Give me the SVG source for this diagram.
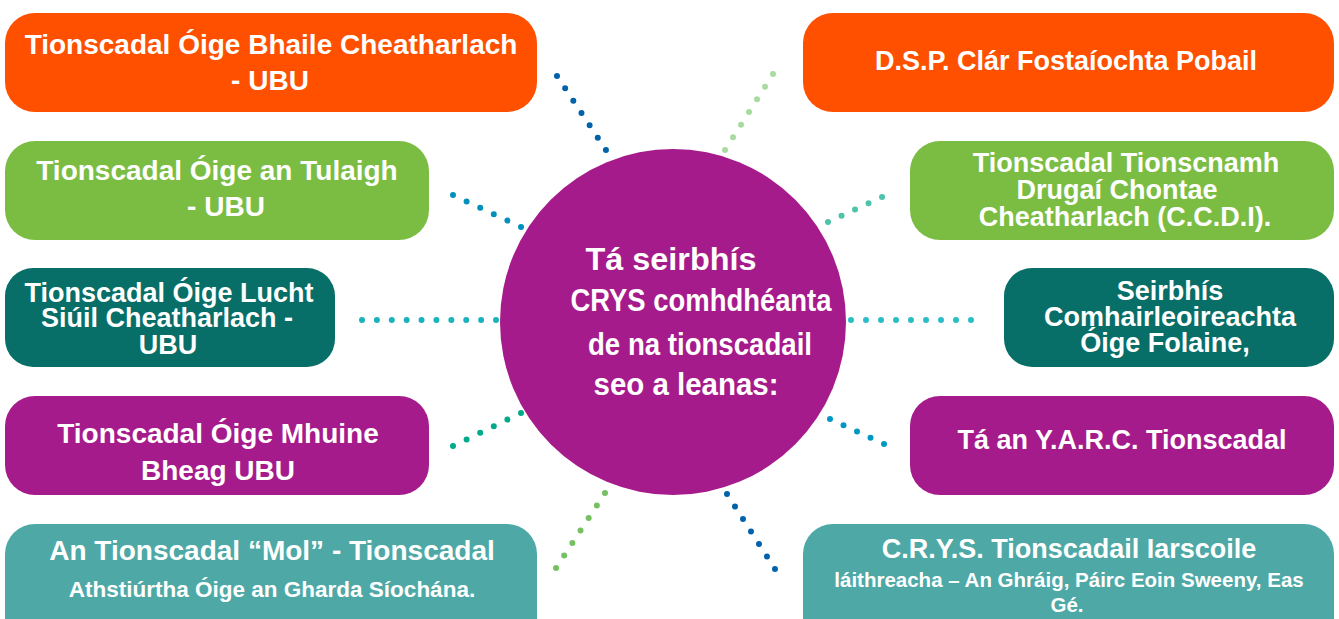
<svg xmlns="http://www.w3.org/2000/svg" width="1339" height="619" viewBox="0 0 1339 619">
<style>
text{font-family:"Liberation Sans",Arial,sans-serif;font-weight:bold;fill:#fff;text-anchor:middle}
.t28{font-size:28px}
.t27{font-size:27px}
.t22{font-size:22.5px}
.t20{font-size:20.5px}
.ctr{font-size:31px}
.orange{fill:#FF5000}
.green{fill:#7BBD43}
.dteal{fill:#076E68}
.purple{fill:#A61B8B}
.lteal{fill:#4EA9A6}
.dots line{fill:none;stroke-width:6;stroke-linecap:round}
</style>
<rect width="1339" height="619" fill="#fff"/>
<g id="connectors" class="dots">
<line x1="557" y1="76" x2="606.8" y2="151.3" stroke="#0062A9" stroke-dasharray="0 14.79"/>
<line x1="773" y1="74" x2="724.2" y2="151.3" stroke="#A9DBA0" stroke-dasharray="0 14.98"/>
<line x1="453" y1="195" x2="522.4" y2="227.6" stroke="#0090BA" stroke-dasharray="0 15.03"/>
<line x1="828" y1="222" x2="883.4" y2="196.4" stroke="#4DC4A9" stroke-dasharray="0 14.88"/>
<line x1="362" y1="320" x2="497.5" y2="320" stroke="#1AB2BC" stroke-dasharray="0 14.89"/>
<line x1="851" y1="320" x2="972.5" y2="320" stroke="#29BEC4" stroke-dasharray="0 15"/>
<line x1="453" y1="446" x2="522.4" y2="412.3" stroke="#00A98A" stroke-dasharray="0 15.12"/>
<line x1="830" y1="419" x2="885.4" y2="444.6" stroke="#0098C2" stroke-dasharray="0 14.88"/>
<line x1="605" y1="493" x2="555.2" y2="569.3" stroke="#77C062" stroke-dasharray="0 14.93"/>
<line x1="727" y1="494" x2="775.8" y2="570.3" stroke="#0063AA" stroke-dasharray="0 14.84"/>
</g>
<g id="center">
<circle cx="673" cy="322" r="173" class="purple"/>
<text class="ctr" x="671" y="270" textLength="171" lengthAdjust="spacingAndGlyphs">Tá seirbhís</text>
<text class="ctr" x="701" y="311" textLength="261" lengthAdjust="spacingAndGlyphs">CRYS comhdhéanta</text>
<text class="ctr" x="700" y="355" textLength="224" lengthAdjust="spacingAndGlyphs">de na tionscadail</text>
<text class="ctr" x="686" y="395" textLength="185" lengthAdjust="spacingAndGlyphs">seo a leanas:</text>
</g>
<g id="l1">
<rect x="5" y="13" width="532" height="99" rx="30" class="orange"/>
<text class="t28" x="271" y="54">Tionscadal Óige Bhaile Cheatharlach</text>
<text class="t28" x="270" y="90">- UBU</text>
</g>
<g id="l2">
<rect x="5" y="141" width="424" height="99" rx="30" class="green"/>
<text class="t28" x="217" y="180">Tionscadal Óige an Tulaigh</text>
<text class="t28" x="226" y="216">- UBU</text>
</g>
<g id="l3">
<rect x="5" y="268" width="330" height="99" rx="28" class="dteal"/>
<text class="t27" x="169" y="302">Tionscadal Óige Lucht</text>
<text class="t27" x="167" y="327">Siúil Cheatharlach -</text>
<text class="t27" x="168" y="354">UBU</text>
</g>
<g id="l4">
<rect x="5" y="396" width="424" height="99" rx="30" class="purple"/>
<text class="t28" x="218" y="443">Tionscadal Óige Mhuine</text>
<text class="t28" x="218" y="480">Bheag UBU</text>
</g>
<g id="l5">
<rect x="5" y="524" width="532" height="130" rx="30" class="lteal"/>
<text class="t28" x="272" y="560">An Tionscadal “Mol” - Tionscadal</text>
<text class="t22" x="272" y="597">Athstiúrtha Óige an Gharda Síochána.</text>
</g>
<g id="r1">
<rect x="803" y="13" width="531" height="99" rx="30" class="orange"/>
<text class="t27" x="1066" y="70">D.S.P. Clár Fostaíochta Pobail</text>
</g>
<g id="r2">
<rect x="910" y="141" width="424" height="99" rx="30" class="green"/>
<text class="t27" x="1126" y="172">Tionscadal Tionscnamh</text>
<text class="t27" x="1117" y="199">Drugaí Chontae</text>
<text class="t27" x="1125" y="226">Cheatharlach (C.C.D.I).</text>
</g>
<g id="r3">
<rect x="1004" y="268" width="330" height="99" rx="28" class="dteal"/>
<text class="t27" x="1170" y="300">Seirbhís</text>
<text class="t27" x="1170" y="326">Comhairleoireachta</text>
<text class="t27" x="1165" y="352">Óige Folaine,</text>
</g>
<g id="r4">
<rect x="910" y="396" width="424" height="99" rx="30" class="purple"/>
<text class="t27" x="1122" y="449">Tá an Y.A.R.C. Tionscadal</text>
</g>
<g id="r5">
<rect x="803" y="524" width="531" height="130" rx="30" class="lteal"/>
<text class="t27" x="1069" y="558">C.R.Y.S. Tionscadail Iarscoile</text>
<text class="t20" x="1069" y="587">láithreacha – An Ghráig, Páirc Eoin Sweeny, Eas</text>
<text class="t20" x="1067" y="612">Gé.</text>
</g>
</svg>
